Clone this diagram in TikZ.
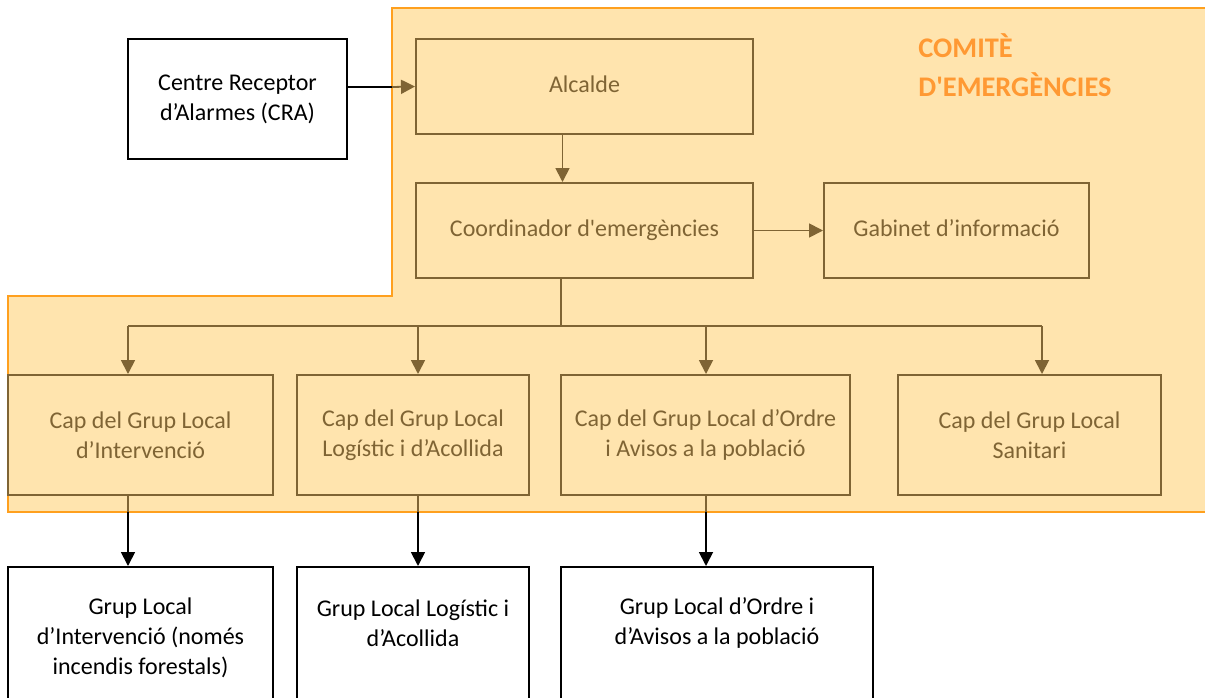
\documentclass[tikz,border=0pt]{standalone}
\usepackage{fontspec}
\setmainfont{Carlito}[Ligatures=TeXOff]
\usetikzlibrary{arrows.meta,positioning}

\definecolor{panelfill}{RGB}{255,228,174}
\definecolor{paneldraw}{RGB}{255,160,30}
\definecolor{boxbrown}{RGB}{127,100,52}
\definecolor{titleorange}{RGB}{255,153,51}

\begin{document}
\begin{tikzpicture}
	  [x=0.5pt,y=-0.5pt,every path/.style={>={Triangle[length=7pt,width=7pt]}},
	   font=\fontsize{12}{15}\selectfont,
	   cbox/.style={draw=boxbrown,line width=1pt,text=boxbrown,align=center,inner sep=0pt},
	   wbox/.style={draw=black,line width=1pt,fill=white,align=center,inner sep=0pt},
	   blink/.style={draw=boxbrown,line width=0.9pt},
	   klink/.style={draw=black,line width=0.9pt}]
	  \clip (0,0) rectangle (1205,697);

	  % comite panel
	  \draw[fill=panelfill,draw=paneldraw,line width=1pt]
	    (392,8) -- (1215,8) -- (1215,512) -- (8,512) -- (8,296) -- (392,296) -- cycle;
	  \node[text=titleorange,font=\fontsize{14.2}{19.5}\selectfont\bfseries,align=left,anchor=north west,inner sep=0pt]
	    (title) at (918,33) {COMITÈ\\D'EMERGÈNCIES};

	  \node[wbox,minimum width=109.5pt,minimum height=60pt] (cra) at (237.5,99) {Centre Receptor\\d’Alarmes (CRA)};
	  \node[cbox,minimum width=168.5pt,minimum height=47.5pt] (alc) at (584.5,86.5) {\raisebox{2.5pt}{Alcalde}};
	  \node[cbox,minimum width=168.5pt,minimum height=47.5pt] (coord) at (584.5,230.5) {\raisebox{2.5pt}{Coordinador d'emergències}};
	  \node[cbox,minimum width=132.5pt,minimum height=47.5pt] (gab) at (956.5,230.5) {\raisebox{2.5pt}{Gabinet d’informació}};

	  \node[cbox,minimum width=132.5pt,minimum height=60pt] (cap1) at (140.5,435) {Cap del Grup Local\\d’Intervenció};
	  \node[cbox,minimum width=116pt,minimum height=60pt] (cap2) at (413,435) {Cap del Grup Local\\Logístic i d’Acollida};
	  \node[cbox,minimum width=144.5pt,minimum height=60pt] (cap3) at (705.5,435) {Cap del Grup Local d’Ordre\\i Avisos a la població};
	  \node[cbox,minimum width=131.5pt,minimum height=60pt] (cap4) at (1029.5,435) {Cap del Grup Local\\Sanitari};

	  \node[wbox,minimum width=132.5pt,minimum height=76.5pt] (grup1) at (140.5,643.5) {};
	  \node[wbox,minimum width=116pt,minimum height=76.5pt] (grup2) at (413,643.5) {};
	  \node[wbox,minimum width=156pt,minimum height=76.5pt] (grup3) at (717,643.5) {};
	  \node[align=center,inner sep=0pt] (txt1) at (140.5,638) {Grup Local\\d’Intervenció (només\\incendis forestals)};
	  \node[align=center,inner sep=0pt] (txt2) at (413,623) {Grup Local Logístic i\\d’Acollida};
	  \node[align=center,inner sep=0pt] (txt3) at (717,623) {Grup Local d’Ordre i\\d’Avisos a la població};

	  % connectors
	  \coordinate (edge) at (392,87);
	  \draw[klink] (cra.east |- edge) -- (edge);
	  \draw[blink,->] (edge) -- (alc.west);
	  \draw[blink,->] ([xshift=-11pt]alc.south) -- ([xshift=-11pt]coord.north);
	  \draw[blink,->] (coord.east) -- (gab.west);

	  \coordinate (bus) at (561,326);
	  \draw[blink] ([xshift=-11.75pt]coord.south) -- (bus);
	  \draw[blink] (128,326) -- (1042,326);
	  \foreach \n/\x in {cap1/128,cap2/418,cap3/706,cap4/1042}
	    \draw[blink,->] (\x,326) -- (\x,326 |- \n.north);

	  \foreach \n/\m/\x in {cap1/grup1/128,cap2/grup2/418,cap3/grup3/706}
	    {
	    \draw[blink] (\x,326 |- \n.south) -- (\x,512);
	    \draw[klink,->] (\x,512) -- (\x,512 |- \m.north);
	    }
	\end{tikzpicture}
\end{document}
